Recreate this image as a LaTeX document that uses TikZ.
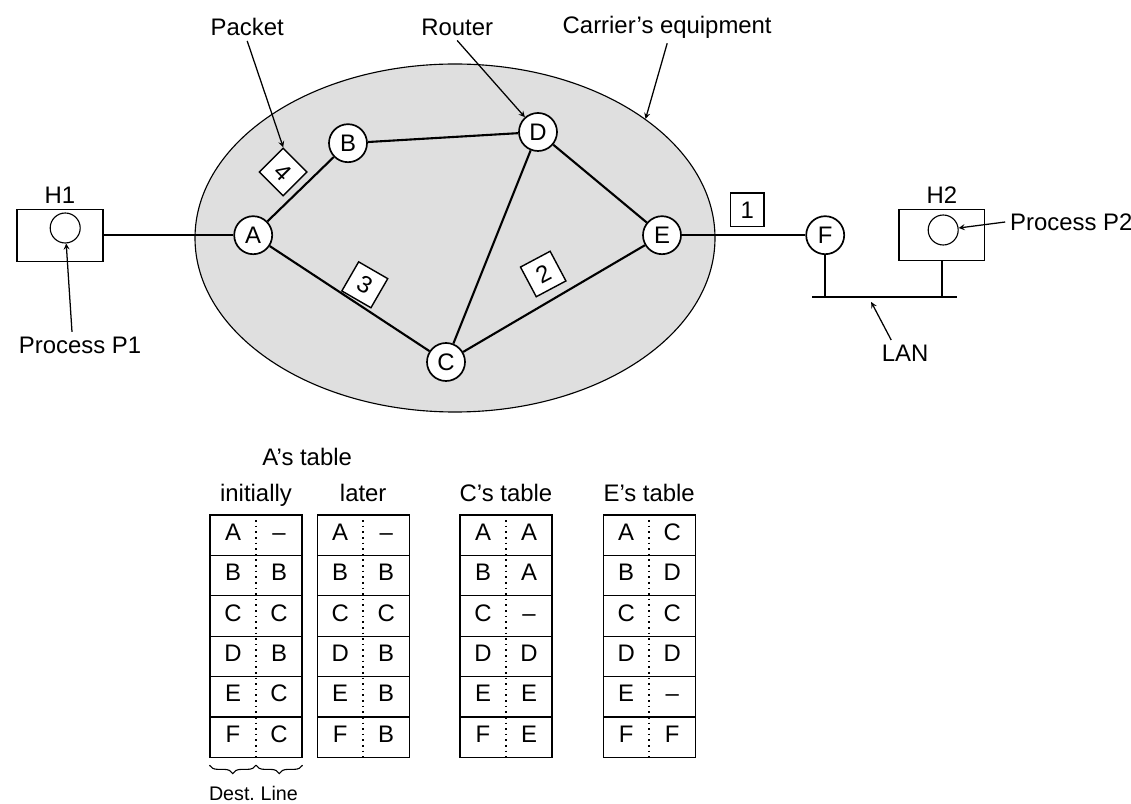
\documentclass[tikz,border=0pt]{standalone}
\usepackage{fontspec}
\setmainfont{Liberation Sans}
\usetikzlibrary{positioning, shapes.geometric, decorations.pathreplacing}

\begin{document}
\begin{tikzpicture}[
				>=stealth,
				font=\fontsize{17}{20}\selectfont,
				subnet/.style={ellipse, draw=black, thick, fill=gray!25, minimum width=13cm, minimum height=8.7cm, inner sep=0pt},
				router/.style={circle, draw=black, line width=1.2pt, fill=white, minimum size=0.95cm, inner sep=0pt},
				host/.style={rectangle, draw=black, thick, fill=white, minimum width=2.15cm, minimum height=1.3cm},
				proc/.style={circle, draw=black, thick, minimum size=0.75cm, inner sep=0pt},
				packet/.style={rectangle, draw=black, line width=1pt, fill=white, minimum size=0.84cm, inner sep=0pt},
				rowbox/.style={rectangle, draw=black, thick, minimum width=2.3cm, minimum height=1.01cm},
				cell/.style={inner sep=0pt, text height=0.72em, text depth=0pt},
				link/.style={line width=1.5pt},
				callout/.style={->, line width=0.9pt},
				divider/.style={line width=1.1pt, dash pattern=on 1.2pt off 2.8pt},
				underbrace/.style={decorate, decoration={brace, mirror, amplitude=6pt}, thick}
			]

			\useasboundingbox (0,0) rectangle (28.275,-20.1);

			% Carrier's subnet
			\node[subnet] (carrier) at (11.375, -5.95) {};
			\node[router] (a) at (6.33, -5.88) {A};
			\node[router] (b) at (8.7, -3.58) {B};
			\node[router] (d) at (13.45, -3.3) {D};
			\node[router] (e) at (16.55, -5.88) {E};
			\node[router] (c) at (11.15, -9.05) {C};
			\node[router] (f) at (20.63, -5.88) {F};
			\draw[link] (a) -- (b);
			\draw[link] (b) -- (d);
			\draw[link] (d) -- (e);
			\draw[link] (d) -- (c);
			\draw[link] (a) -- (c);
			\draw[link] (c) -- (e);
			\draw[link] (e) -- (f);

			% Packets
			\node[packet, rotate=-45] (p4) at (7.08, -4.3) {4};
			\node[packet, rotate=-30] (p3) at (9.12, -7.12) {3};
			\node[packet, rotate=28] (p2) at (13.58, -6.85) {2};
			\node[packet] (p1) at (18.68, -5.25) {1};

			% Hosts
			\node[host] (h1) at (1.5, -5.88) {};
			\node[proc] (h1p) at (1.63, -5.7) {};
			\node (h1lbl) at (1.5, -4.88) {H1};
			\draw[link] (h1) -- (a);
			\node[host, minimum width=2.13cm, minimum height=1.28cm] (h2) at (23.54, -5.88) {};
			\node[proc] (h2p) at (23.58, -5.75) {};
			\node (h2lbl) at (23.55, -4.88) {H2};

			% LAN
			\coordinate (lanw) at (20.3, -7.43);
			\coordinate (lane) at (23.93, -7.43);
			\coordinate (lanhit) at (21.78, -7.55);
			\draw[link] (lanw) -- (lane);
			\draw[link] (f) -- (f |- lanw);
			\draw[link] (h2) -- (h2 |- lanw);

			% Labels
			\node (packetlbl) at (6.18, -0.68) {Packet};
			\node (routerlbl) at (11.43, -0.68) {Router};
			\node (carrierlbl) at (16.68, -0.68) {Carrier's equipment};
			\node (p1lbl) at (2.0, -8.63) {Process P1};
			\node[anchor=west] (p2lbl) at (25.13, -5.55) {Process P2};
			\node (lanlbl) at (22.63, -8.83) {LAN};
			\draw[callout] (packetlbl.south) -- (p4.north west);
			\draw[callout] (routerlbl.south) -- (d);
			\draw[callout] (carrierlbl.south) -- (carrier.32);
			\draw[callout] ([xshift=-0.2cm]p1lbl.north) -- (h1p);
			\draw[callout] (p2lbl.west) -- (h2p);
			\draw[callout] ([xshift=-0.35cm]lanlbl.north) -- (lanhit);

			% Routing tables
			\node[anchor=base] (atitle) at (7.68, -11.65) {A's table};
			\node[anchor=base] (aititle) at (6.4, -12.55) {initially};
			\node[anchor=base] (altitle) at (9.08, -12.55) {later};
			\node[anchor=base] (ctitle) at (12.65, -12.55) {C's table};
			\node[anchor=base] (etitle) at (16.23, -12.55) {E's table};

			\foreach \d/\l [count=\i] in {A/--,B/B,C/C,D/B,E/C,F/C} {
				\node[rowbox] (ai\i) at (6.4, {-12.37-1.01*\i}) {};
				\node[cell] (ai\i-d) at ([xshift=-0.575cm]ai\i.center) {\d};
				\node[cell] (ai\i-l) at ([xshift=0.575cm]ai\i.center) {\l};
			}
			\draw[divider] (ai1.north) -- (ai6.south);

			\foreach \d/\l [count=\i] in {A/--,B/B,C/C,D/B,E/B,F/B} {
				\node[rowbox] (al\i) at (9.08, {-12.37-1.01*\i}) {};
				\node[cell] (al\i-d) at ([xshift=-0.575cm]al\i.center) {\d};
				\node[cell] (al\i-l) at ([xshift=0.575cm]al\i.center) {\l};
			}
			\draw[divider] (al1.north) -- (al6.south);

			\foreach \d/\l [count=\i] in {A/A,B/A,C/--,D/D,E/E,F/E} {
				\node[rowbox] (ct\i) at (12.65, {-12.37-1.01*\i}) {};
				\node[cell] (ct\i-d) at ([xshift=-0.575cm]ct\i.center) {\d};
				\node[cell] (ct\i-l) at ([xshift=0.575cm]ct\i.center) {\l};
			}
			\draw[divider] (ct1.north) -- (ct6.south);

			\foreach \d/\l [count=\i] in {A/C,B/D,C/C,D/D,E/--,F/F} {
				\node[rowbox] (et\i) at (16.23, {-12.37-1.01*\i}) {};
				\node[cell] (et\i-d) at ([xshift=-0.575cm]et\i.center) {\d};
				\node[cell] (et\i-l) at ([xshift=0.575cm]et\i.center) {\l};
			}
			\draw[divider] (et1.north) -- (et6.south);

			% Column legend
			\draw[underbrace] ([yshift=-0.18cm]ai6.south west) -- ([yshift=-0.18cm]ai6.south);
			\draw[underbrace] ([yshift=-0.18cm]ai6.south) -- ([yshift=-0.18cm]ai6.south east);
			\node[anchor=base, font=\fontsize{14}{16}\selectfont] (destlbl) at (5.8, -20.0) {Dest.};
			\node[anchor=base, font=\fontsize{14}{16}\selectfont] (linelbl) at (6.98, -20.0) {Line};

		\end{tikzpicture}
\end{document}
